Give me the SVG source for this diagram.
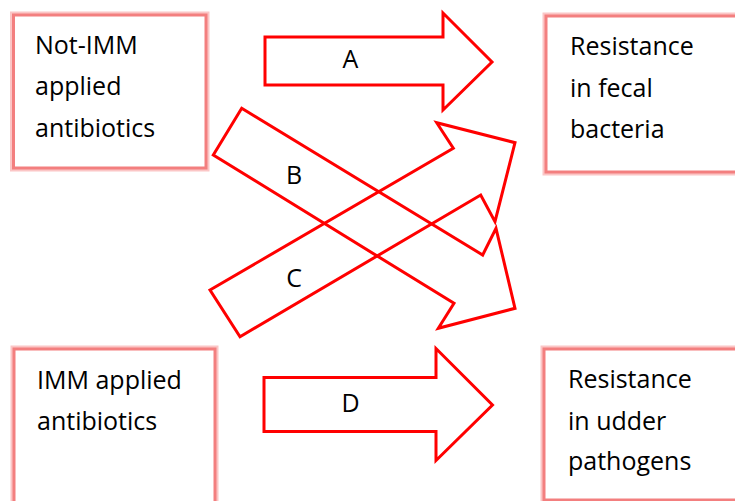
<svg xmlns="http://www.w3.org/2000/svg" width="735" height="501" viewBox="0 0 735 501">
<defs>
<style>
.glow{fill:none;stroke:#fbc6c6;stroke-width:7}
.core{fill:#fff;stroke:#f37f7f;stroke-width:3}
.t{font-family:"Open Sans","Liberation Sans",sans-serif;font-size:25px;fill:#000}
.lbl{font-family:"Open Sans","Liberation Sans",sans-serif;font-size:25px;fill:#000;text-anchor:middle}
.arr{fill:none;stroke:#ff0000;stroke-width:3;stroke-linejoin:miter;stroke-miterlimit:10}
</style>
</defs>
<rect width="735" height="501" fill="#fff"/>
<g id="node-not-imm">
<rect class="glow" x="13.5" y="15" width="192.5" height="153"/>
<rect class="core" x="13.5" y="15" width="192.5" height="153"/>
<text class="t" x="35" y="54">Not-IMM</text>
<text class="t" x="35" y="95">applied</text>
<text class="t" x="35" y="136.5">antibiotics</text>
</g>
<g id="node-fecal">
<rect class="glow" x="546" y="16" width="200" height="156"/>
<rect class="core" x="546" y="16" width="200" height="156"/>
<text class="t" x="570" y="55">Resistance</text>
<text class="t" x="570" y="97">in fecal</text>
<text class="t" x="570" y="138">bacteria</text>
</g>
<g id="node-imm">
<rect class="glow" x="14" y="349" width="201" height="160"/>
<rect class="core" x="14" y="349" width="201" height="160"/>
<text class="t" x="37" y="389">IMM applied</text>
<text class="t" x="37" y="430">antibiotics</text>
</g>
<g id="node-udder">
<rect class="glow" x="544" y="349" width="200" height="151"/>
<rect class="core" x="544" y="349" width="200" height="151"/>
<text class="t" x="568" y="388">Resistance</text>
<text class="t" x="568" y="430">in udder</text>
<text class="t" x="568" y="470">pathogens</text>
</g>
<g id="connectors">
<g id="arrow-A">
<polygon class="arr" points="265,37 443,37 443,13 492,62 443,110 443,85 265,85"/>
<text class="lbl" x="350.5" y="68">A</text>
</g>
<g id="arrow-B">
<polygon class="arr" points="241.7,108.3 482.7,255 496,228.3 515,308.3 438.3,328.3 454,303.3 213.3,155"/>
<text class="lbl" x="294" y="183.5">B</text>
</g>
<g id="arrow-C">
<polygon class="arr" points="210,290 453.3,148.3 436.7,122.7 515,142.7 495,221.7 480.7,195 240,336.7"/>
<text class="lbl" x="294" y="287">C</text>
</g>
<g id="arrow-D">
<polygon class="arr" points="264,377.5 436,377.5 436,348.5 492.5,405 436,460.5 436,431.5 264,431.5"/>
<text class="lbl" x="350.5" y="411.5">D</text>
</g>
</g>
</svg>
